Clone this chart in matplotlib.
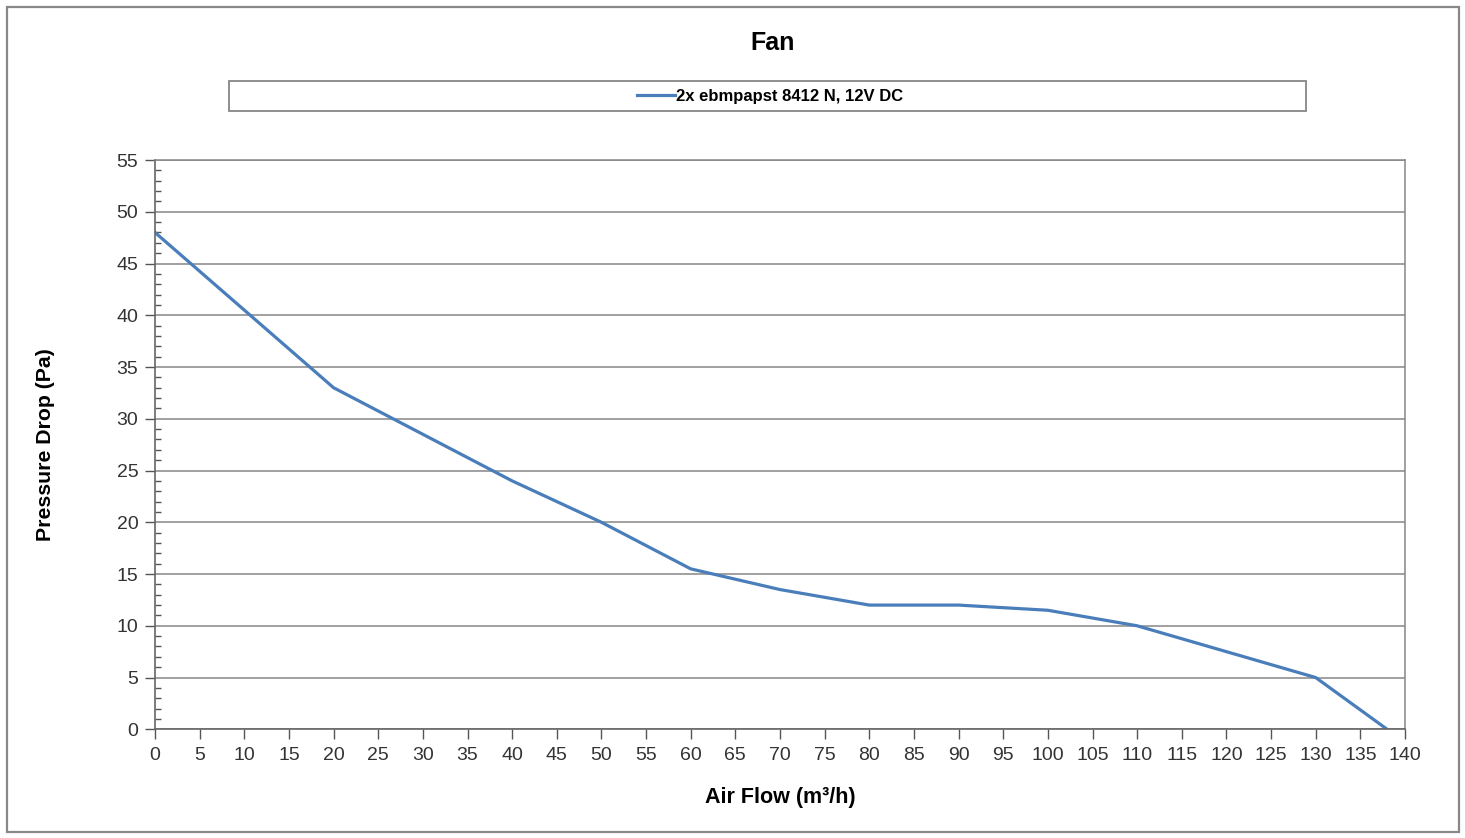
import numpy as np
import matplotlib.pyplot as plt
from matplotlib.patches import Rectangle
from matplotlib.ticker import MultipleLocator

plt.rcParams['font.family'] = ['Liberation Sans', 'DejaVu Sans']

# fan curve
air_flow = [0, 20, 30, 40, 50, 60, 70, 80, 90, 100, 110, 120, 130, 138]
pressure = [48, 33, 28.5, 24, 20, 15.5, 13.5, 12, 12, 11.5, 10, 7.5, 5, 0]
series_name = '2x ebmpapst 8412 N, 12V DC'

W, H = 1465, 838
fig = plt.figure(figsize=(W / 100, H / 100), dpi=100)
ax = fig.add_axes([155 / W, 1 - 729.3 / H, 1250 / W, (729.3 - 160) / H])

line_color = '#4a7ebb'
grid_color = '#868686'

ax.plot(air_flow, pressure, color=line_color, lw=2.3, label=series_name)

ax.set_xlim(0, 140)
ax.set_ylim(0, 55)
ax.xaxis.set_major_locator(MultipleLocator(5))
ax.yaxis.set_major_locator(MultipleLocator(5))
ax.yaxis.set_minor_locator(MultipleLocator(1))
ax.grid(axis='y', which='major', color=grid_color, lw=1.1)
ax.set_axisbelow(True)

ax.tick_params(axis='x', which='major', direction='out', length=7, width=1,
               color='#555555', labelsize=14, labelcolor='#333333', pad=6)
ax.tick_params(axis='y', which='major', direction='out', length=7, width=1,
               color='#555555', labelsize=14, labelcolor='#333333', pad=5)
ax.tick_params(axis='y', which='minor', direction='in', length=4, width=1,
               color='#555555')

for s in ['left', 'bottom']:
    ax.spines[s].set_color('#666666')
    ax.spines[s].set_linewidth(1.2)
ax.spines['right'].set_color(grid_color)
ax.spines['right'].set_linewidth(1.1)
ax.spines['top'].set_color(grid_color)
ax.spines['top'].set_linewidth(1.1)

ax.set_xlabel('Air Flow (m³/h)', fontsize=15.5, fontweight='bold', labelpad=16)
ax.set_ylabel('Pressure Drop (Pa)', fontsize=15.3, fontweight='bold', labelpad=44)

fig.text(773 / W, 1 - 43 / H, 'Fan', fontsize=18, fontweight='bold',
         ha='center', va='center')

# legend box
fig.patches.append(Rectangle((229 / W, 1 - 111 / H), (1306 - 229) / W, 30 / H,
                             transform=fig.transFigure, fill=False,
                             edgecolor=grid_color, lw=1.3))
fig.legend(loc='center', bbox_to_anchor=(770 / W, 1 - 96 / H), frameon=False,
           prop={'size': 12, 'weight': 'bold'}, handlelength=2.3,
           handletextpad=0.05, borderaxespad=0)

# outer chart border
fig.patches.append(Rectangle((7 / W, 1 - 832 / H), (1459 - 7) / W, (832 - 7) / H,
                             transform=fig.transFigure, fill=False,
                             edgecolor='#888888', lw=1.6))

plt.savefig('out.png', dpi=100)
